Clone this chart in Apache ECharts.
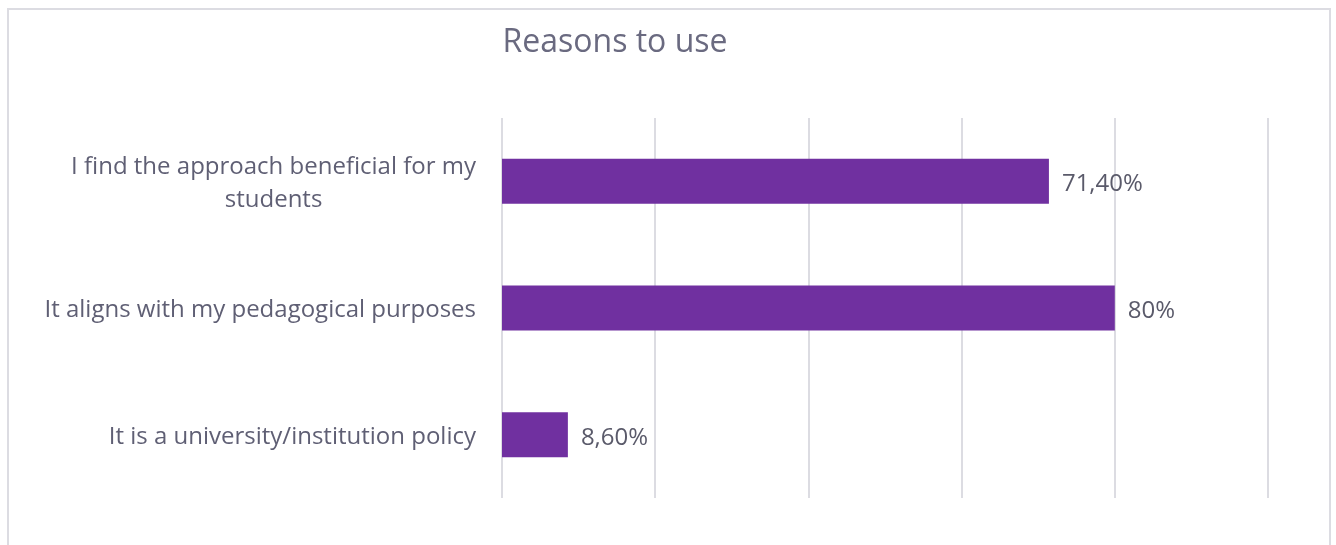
<!DOCTYPE html>
<html>
<head>
<meta charset="utf-8">
<script src="https://cdn.jsdelivr.net/npm/echarts@6/dist/echarts.min.js"></script>
<style>
  html, body { margin: 0; padding: 0; background: #fff; }
  #wrap { position: relative; width: 1336px; height: 545px; overflow: hidden; }
  #chart { position: absolute; left: 0; top: 0; width: 1336px; height: 545px; }
  #frame {
    position: absolute; left: 7px; top: 8px; width: 1320px; height: 560px;
    border: 2px solid #dcdce2; pointer-events: none;
  }
</style>
</head>
<body>
<div id="wrap">
  <div id="chart"></div>
  <div id="frame"></div>
</div>
<script>
const categories = [
  'I find the approach beneficial for my students',
  'It aligns with my pedagogical purposes',
  'It is a university/institution policy'
];
const values = [71.4, 80, 8.6];

function fmt(v) {
  if (Number.isInteger(v)) return v + '%';
  return v.toFixed(2).replace('.', ',') + '%';
}

// wrap long category names at word boundaries, lines centred like the original
function wrap(s, max) {
  const words = s.split(' ');
  const lines = [];
  let cur = '';
  words.forEach(w => {
    if (cur && (cur + ' ' + w).length > max) {
      lines.push(cur);
      cur = w;
    } else {
      cur = cur ? cur + ' ' + w : w;
    }
  });
  lines.push(cur);
  return lines.map(l => '{c|' + l + '}').join('\n');
}

const chart = echarts.init(document.getElementById('chart'));
chart.setOption({
  animation: false,
  title: {
    text: 'Reasons to use',
    left: 610,
    textAlign: 'center',
    top: 22,
    textStyle: { fontFamily: 'Open Sans', fontSize: 32, fontWeight: 'normal', color: '#6a6a80' }
  },
  grid: { left: 502, right: 68, top: 118, bottom: 47, containLabel: false },
  xAxis: {
    type: 'value',
    min: 0,
    max: 100,
    interval: 20,
    axisLabel: { show: false },
    axisLine: { show: false },
    axisTick: { show: false },
    splitLine: { lineStyle: { color: '#dcdce2', width: 2 } }
  },
  yAxis: {
    type: 'category',
    inverse: true,
    data: categories,
    axisLine: { show: false },
    axisTick: { show: false },
    axisLabel: {
      margin: 26,
      padding: [5, 0, 0, 0],
      formatter: v => wrap(v, 38),
      rich: {
        c: {
          align: 'center',
          lineHeight: 33,
          fontFamily: 'Open Sans',
          fontSize: 24,
          color: '#5f5f74'
        }
      }
    }
  },
  series: [{
    type: 'bar',
    data: values,
    barWidth: 45,
    itemStyle: { color: '#7030a0' },
    label: {
      show: true,
      position: 'right',
      distance: 13,
      offset: [0, 3],
      formatter: p => fmt(p.value),
      fontFamily: 'Open Sans',
      fontSize: 24,
      color: '#5a5a6a'
    }
  }]
});
</script>
</body>
</html>
